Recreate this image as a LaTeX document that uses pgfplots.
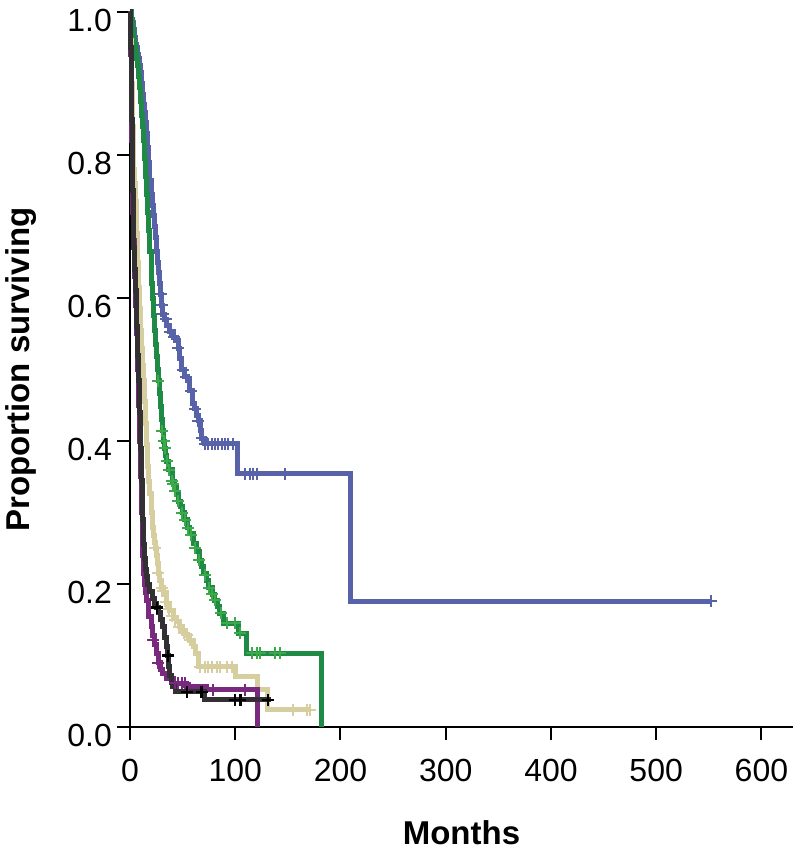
\documentclass[border=0pt]{standalone}
\usepackage{pgfplots}
\pgfplotsset{compat=1.18}
\usepackage{fontspec}
\setmainfont{Liberation Sans}
\definecolor{kmblue}{RGB}{88,98,168}
\definecolor{kmgreen}{RGB}{30,138,70}
\definecolor{kmgreenm}{RGB}{60,170,72}
\definecolor{kmtan}{RGB}{214,206,158}
\definecolor{kmblack}{RGB}{50,48,50}
\definecolor{kmpurple}{RGB}{122,42,126}
\begin{document}
\begin{tikzpicture}
\useasboundingbox (-65pt,-63pt) rectangle (335pt,363.5pt);
\begin{axis}[
  at={(0,0)}, anchor=south west,
  scale only axis, width=331.5pt, height=357.5pt,
  xmin=0, xmax=630, ymin=0, ymax=1,
  axis x line=bottom, axis y line=left,
  axis line style={-, line width=1pt, black},
  xtick={0,100,200,300,400,500,600},
  ytick={0,0.2,0.4,0.6,0.8,1.0},
  tick align=outside, major tick length=6.5pt,
  tick style={line width=1pt, black},
  minor tick num=0,
  /pgf/number format/assume math mode=true,
  tick label style={font=\fontsize{16}{19}\selectfont},
  xticklabel style={yshift=-6pt},
  yticklabel style={yshift=-4pt, xshift=1pt, /pgf/number format/.cd, fixed, fixed zerofill, precision=1},
  xlabel={Months}, ylabel={Proportion surviving},
  xlabel style={font=\fontsize{16.5}{20}\selectfont\bfseries, at={(axis description cs:0.5,-0.148)}, anchor=center},
  ylabel style={font=\fontsize{16.5}{20}\selectfont\bfseries, at={(axis description cs:-0.164,0.5)}, anchor=center},
  clip=false,
  every axis plot/.append style={line width=2.5pt},
]
% ---------- blue ----------
\addplot[const plot, kmblue, mark=none] coordinates {
(0,1.0)(1,0.99)(2,0.985)(3,0.975)(4,0.965)(5,0.955)(6,0.95)(7,0.94)(8,0.935)(9,0.925)(10,0.915)
(11,0.9)(12,0.885)(13,0.87)(14,0.86)(15,0.845)(16,0.83)(17,0.81)(18,0.79)(19,0.765)(20,0.745)
(21,0.73)(22,0.715)(23,0.70)(24,0.685)(25,0.665)(26,0.65)(27,0.635)(28,0.62)(29,0.605)(30,0.59)
(31,0.577)(33,0.57)(35,0.562)(38,0.553)(41,0.545)(44,0.54)(46,0.53)(47,0.515)(49,0.50)(52,0.49)
(55,0.484)(57,0.47)(59,0.452)(61,0.445)(63,0.435)(65,0.428)(67,0.415)(68,0.404)(71,0.396)
(102,0.354)(210,0.176)(552,0.176)};
\addplot[only marks, kmblue, mark=+, mark size=3pt, mark options={line width=1pt}] coordinates {
(29,0.605)(30,0.59)(31,0.577)(34,0.57)(38,0.553)(42,0.545)(46,0.53)(50,0.50)(53,0.49)(58,0.47)
(62,0.445)(65,0.428)(68,0.404)(71,0.396)(74,0.396)(78,0.396)(81,0.396)(84,0.396)(87.5,0.396)
(90,0.396)(93,0.396)(98,0.396)(109,0.354)(114,0.354)(117,0.354)(121,0.354)(147,0.354)(552,0.176)};
% ---------- green ----------
\addplot[const plot, kmgreen, mark=none] coordinates {
(0,1.0)(1,0.99)(2,0.975)(3,0.965)(4,0.955)(5,0.945)(6,0.935)(7,0.925)(8,0.91)(9,0.895)(10,0.875)
(11,0.855)(12,0.84)(13,0.82)(14,0.795)(15,0.77)(16,0.745)(17,0.72)(18,0.695)(19,0.665)(20,0.62)
(21,0.60)(22,0.575)(23,0.554)(24,0.535)(25,0.518)(26,0.50)(27,0.484)(28,0.466)(29,0.448)(30,0.43)
(31,0.414)(32,0.40)(33,0.39)(34,0.38)(35,0.372)(37,0.36)(40,0.344)(42,0.335)(44,0.326)(46,0.316)
(48,0.308)(50,0.30)(52,0.29)(55,0.279)(57,0.27)(60,0.256)(63,0.245)(66,0.233)(68,0.224)(70,0.215)
(73,0.205)(75,0.195)(78,0.186)(80,0.177)(83,0.168)(85,0.159)(89,0.145)(103,0.131)(111,0.103)(182,0)};
\addplot[only marks, kmgreenm, mark=+, mark size=3pt, mark options={line width=1pt}] coordinates {
(27,0.484)(30.5,0.414)(32,0.40)(33,0.39)(35,0.372)(37,0.36)(39.5,0.344)(41,0.34)(43,0.33)(46,0.316)
(49,0.30)(52,0.29)(55,0.279)(58,0.268)(62,0.25)(66,0.233)(71,0.213)(75,0.195)(78,0.186)(81,0.177)
(86,0.159)(92,0.145)(100,0.145)(105,0.131)(116,0.103)(121,0.103)(124,0.103)(138,0.103)(143,0.103)};
% ---------- tan ----------
\addplot[const plot, kmtan, mark=none] coordinates {
(0,1.0)(0.5,0.96)(1,0.93)(1.5,0.9)(2,0.87)(2.5,0.84)(3,0.81)(3.5,0.78)(4,0.76)(5,0.735)(6,0.69)
(7,0.65)(8,0.615)(9,0.585)(10,0.555)(11,0.53)(12,0.505)(13,0.484)(14,0.455)(15,0.425)(16,0.395)
(17,0.365)(18,0.344)(19,0.326)(20,0.30)(21,0.279)(22,0.268)(23,0.258)(24,0.25)(25,0.24)(26,0.228)
(27,0.215)(28,0.205)(30,0.195)(32,0.185)(35,0.172)(38,0.163)(41,0.153)(44,0.147)(47,0.14)(50,0.135)
(53,0.128)(57,0.121)(60,0.112)(62,0.103)(65,0.084)(100,0.07)(121,0.052)(131,0.024)(171,0.024)};
\addplot[only marks, kmtan, mark=+, mark size=3pt, mark options={line width=1pt}] coordinates {
(24,0.25)(27,0.215)(30,0.195)(31,0.19)(34,0.175)(37,0.165)(40,0.155)(43,0.149)(47,0.14)(51,0.132)
(54,0.128)(57,0.121)(66.5,0.084)(71,0.084)(74,0.084)(78,0.084)(83,0.084)(85.5,0.084)(92,0.084)
(97,0.084)(155,0.024)(168,0.024)(171,0.024)};
% ---------- purple ----------
\addplot[const plot, kmpurple, mark=none] coordinates {
(0,1.0)(0.5,0.94)(1,0.88)(1.5,0.82)(2,0.77)(2.5,0.72)(3,0.68)(4,0.63)(5,0.59)(6,0.55)(7,0.5)
(8,0.45)(9,0.4)(10,0.35)(11,0.3)(12,0.24)(13,0.215)(14,0.2)(15,0.188)(16,0.177)(18,0.155)
(20,0.14)(21,0.128)(23,0.115)(25,0.103)(27,0.09)(29,0.08)(31,0.075)(35,0.068)(41,0.061)(54,0.056)
(73,0.052)(121,0)};
\addplot[only marks, kmpurple, mark=+, mark size=3pt, mark options={line width=1pt}] coordinates {
(22,0.122)(27,0.09)(43,0.061)(46,0.061)(49,0.061)(52,0.061)(55,0.056)(79,0.052)(109,0.052)};
% ---------- black ----------
\addplot[const plot, kmblack, mark=none] coordinates {
(0,1.0)(0.5,0.95)(1,0.9)(1.5,0.85)(2,0.8)(2.5,0.75)(3,0.71)(3.5,0.67)(4,0.64)(5,0.61)(6,0.56)
(7,0.52)(8,0.485)(9,0.44)(10,0.39)(11,0.345)(12,0.29)(13,0.255)(14,0.235)(15,0.22)(16,0.21)
(17,0.2)(19,0.19)(21,0.18)(23,0.173)(25,0.167)(27,0.16)(29,0.15)(31,0.14)(33,0.125)(35,0.112)
(36,0.1)(37,0.085)(38,0.072)(39,0.062)(40,0.056)(43,0.049)(71,0.038)(134,0.038)};
\addplot[only marks, black, mark=+, mark size=3pt, mark options={line width=1.1pt}] coordinates {
(26,0.167)(36,0.1)(54,0.049)(68,0.049)(100,0.038)(105,0.038)(131,0.038)};
\end{axis}
\end{tikzpicture}
\end{document}
